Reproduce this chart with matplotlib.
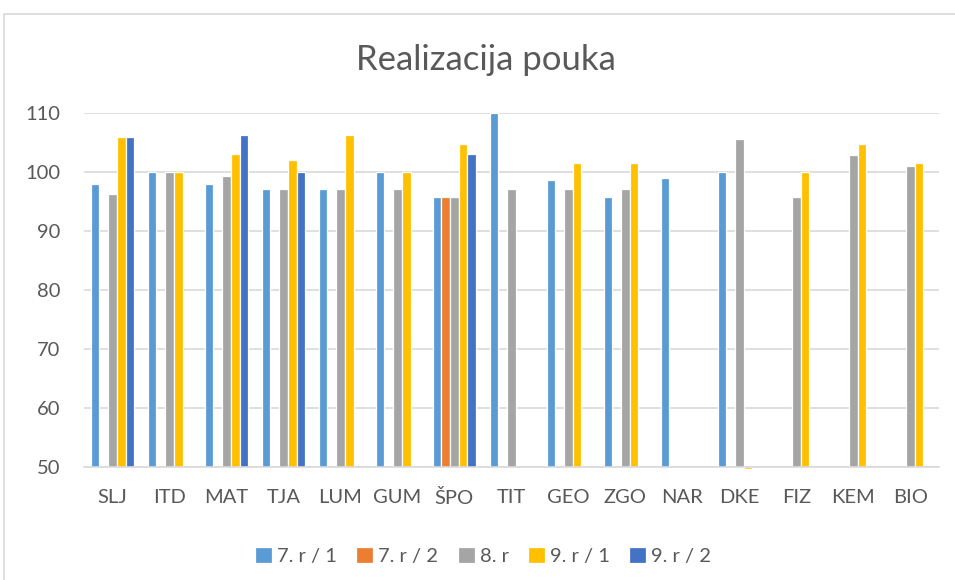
import numpy as np
import matplotlib
matplotlib.use('Agg')
import matplotlib.pyplot as plt
from matplotlib.patches import Rectangle

plt.rcParams['font.family'] = ['Lato', 'DejaVu Sans']

nan = np.nan

categories = ['SLJ', 'ITD', 'MAT', 'TJA', 'LUM', 'GUM', 'ŠPO', 'TIT',
              'GEO', 'ZGO', 'NAR', 'DKE', 'FIZ', 'KEM', 'BIO']

r7_1 = [97.9, 100, 97.9, 97.1, 97.1, 100, 95.7, 110, 98.6, 95.7, 99.0, 100, nan, nan, nan]
r7_2 = [nan, nan, nan, nan, nan, nan, 95.7, nan, nan, nan, nan, nan, nan, nan, nan]
r8 = [96.3, 100, 99.3, 97.1, 97.1, 97.1, 95.7, 97.1, 97.1, 97.1, nan, 105.6, 95.7, 102.9, 101.0]
r9_1 = [106.0, 100, 103.1, 102.1, 106.3, 100, 104.7, nan, 101.6, 101.6, nan, 49.7, 100, 104.7, 101.6]
r9_2 = [106.0, nan, 106.3, 100, nan, nan, 103.1, nan, nan, nan, nan, nan, nan, nan, nan]

series_names = ['7. r / 1', '7. r / 2', '8. r', '9. r / 1', '9. r / 2']
series_values = [r7_1, r7_2, r8, r9_1, r9_2]
colors = ['#5B9BD5', '#ED7D31', '#A5A5A5', '#FFC000', '#4472C4']

base = 50
fig = plt.figure(figsize=(9.55, 5.8), dpi=100)
ax = fig.add_axes([0.088, 0.195, 0.895, 0.61])

x = np.arange(len(categories))
slot = 0.153
for i, (name, vals, c) in enumerate(zip(series_names, series_values, colors)):
    v = np.array(vals, dtype=float)
    ax.bar(x + (i - 2) * slot, v - base, bottom=base, width=slot,
           color=c, edgecolor='white', linewidth=0.9, label=name, clip_on=False)

ax.set_ylim(50, 110)
ax.set_xlim(-0.5, len(categories) - 0.5)
ax.set_yticks(np.arange(50, 111, 10))
ax.set_xticks(x)
ax.set_xticklabels(categories)
ax.yaxis.grid(True, color='#D9D9D9', linewidth=1.2)
ax.set_axisbelow(True)
for s in ['top', 'right', 'left']:
    ax.spines[s].set_visible(False)
ax.spines['bottom'].set_color('#D9D9D9')
ax.spines['bottom'].set_linewidth(1.2)
ax.tick_params(length=0, labelsize=14.5, labelcolor='#595959')
ax.tick_params(axis='y', pad=17)
ax.tick_params(axis='x', pad=16)

# title is centred on the whole chart, not on the plot area
fig.text(0.509, 0.897, 'Realizacija pouka', fontsize=25, color='#595959',
         ha='center', va='center')

ax.legend(loc='upper center', bbox_to_anchor=(0.467, -0.175), ncol=5,
          frameon=False, fontsize=14.5, handlelength=0.85, handleheight=0.85,
          columnspacing=0.95, handletextpad=0.25, labelcolor='#595959')

fig.patches.append(Rectangle((0.004, -0.02), 1.2, 0.996, transform=fig.transFigure,
                             fill=False, edgecolor='#D9D9D9', linewidth=1.2))

fig.savefig('out.png', dpi=100)
